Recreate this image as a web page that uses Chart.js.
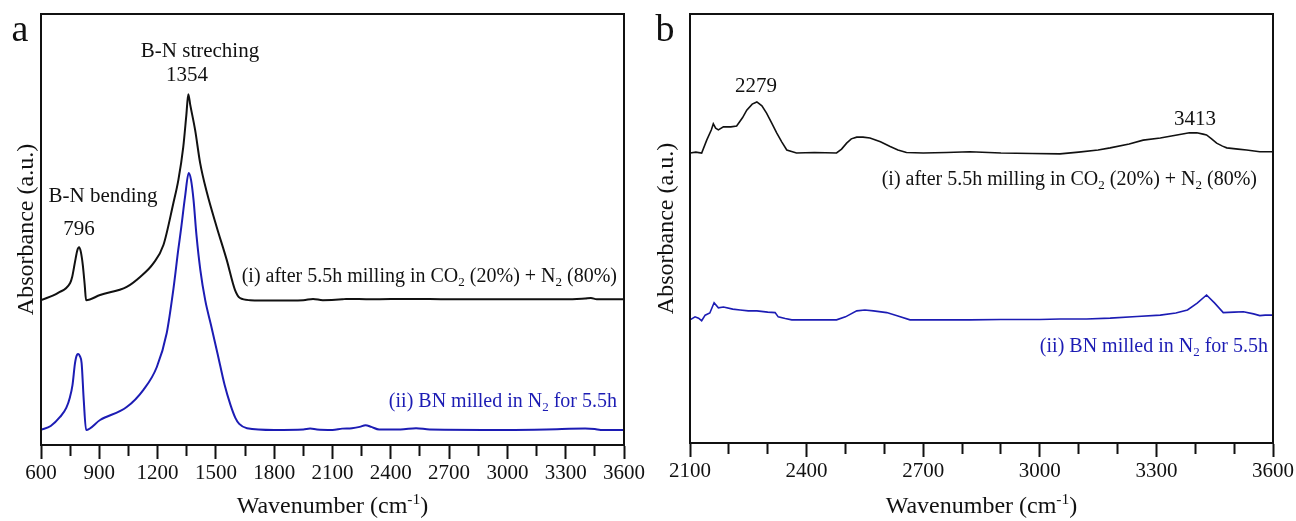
<!DOCTYPE html>
<html>
<head>
<meta charset="utf-8">
<script src="https://cdn.jsdelivr.net/npm/chart.js@4.4.1/dist/chart.umd.min.js"></script>
<style>
html, body { margin: 0; padding: 0; background: #fff; }
#wrap { position: relative; width: 1296px; height: 521px; }
canvas { position: absolute; top: 0; }
#chartA { left: 0; }
#chartB { left: 648px; }
</style>
</head>
<body>
<div id="wrap">
  <canvas id="chartA" width="648" height="521"></canvas>
  <canvas id="chartB" width="648" height="521"></canvas>
</div>
<script>
// ---- panel a : full range spectra ----
const wnA_i  = [600,688,750,760,775,787,796,805,815,825,832,904,1041,1110,1179,1230,1281,1307,1332,1348,1358,1368,1393,1419,1454,1504,1556,1598,1624,1676,1800,1950,2000,2050,2150,2170,2300,2500,2700,3000,3300,3400,3430,3460,3600];
const absA_i = [33.6,35.3,37.6,38.9,42.5,45.2,45.9,44.8,41.8,37.1,33.6,34.8,36.7,39.0,42.2,46.4,56.1,61.5,69.1,76.6,81.4,78.9,73.1,65.4,58.5,50.6,42.9,36.0,34.1,33.6,33.5,33.6,33.9,33.6,33.8,33.9,33.8,33.9,33.8,33.8,33.8,34.0,34.1,33.8,33.8];

const wnA_ii  = [600,650,698,730,749,762,775,785,792,800,809,820,832,904,1041,1127,1196,1247,1282,1306,1320,1341,1360,1372,1385,1400,1420,1445,1475,1510,1545,1575,1600,1620,1660,1800,1950,1985,2020,2100,2150,2200,2240,2270,2300,2340,2450,2530,2600,3000,3200,3400,3450,3480,3600];
const absA_ii = [3.5,4.4,6.5,8.6,11.1,13.9,19.0,20.9,21.1,20.6,19.0,10.4,3.5,5.8,8.8,12.8,18.1,26.0,36.4,45.2,49.9,57.5,63.1,61.5,56.8,48.7,40.6,33.6,27.8,20.9,13.9,9.3,6.3,4.9,3.9,3.5,3.6,3.8,3.6,3.5,3.8,3.9,4.2,4.6,4.2,3.6,3.6,3.9,3.6,3.5,3.6,3.8,3.7,3.5,3.5];

const ticksA = [600,900,1200,1500,1800,2100,2400,2700,3000,3300,3600];

// ---- panel b : 2100-3600 zoom ----
const wnB_i  = [2100,2115,2130,2143,2155,2160,2166,2173,2186,2205,2220,2235,2246,2260,2272,2285,2297,2310,2323,2336,2349,2374,2420,2477,2490,2503,2515,2529,2545,2563,2590,2615,2635,2657,2700,2760,2820,2900,2980,3052,3100,3150,3181,3230,3266,3310,3353,3385,3404,3420,3429,3442,3455,3470,3481,3510,3532,3566,3600];
const absB_i = [67.6,67.8,67.6,70.6,73.0,74.4,73.4,73.0,73.7,73.7,73.9,75.8,77.6,79.0,79.5,78.6,76.9,74.6,72.3,70.2,68.3,67.6,67.7,67.6,68.5,69.9,70.9,71.3,71.3,71.1,70.2,69.1,68.3,67.7,67.6,67.7,67.9,67.6,67.5,67.4,67.8,68.3,68.8,69.7,70.6,71.1,71.8,72.3,72.3,72.0,71.8,70.9,69.9,69.2,68.8,68.5,68.3,67.9,67.9];

const wnB_ii  = [2100,2113,2122,2130,2139,2151,2162,2173,2186,2210,2229,2250,2272,2300,2319,2327,2345,2362,2420,2477,2500,2529,2550,2572,2606,2635,2666,2750,2820,2900,3000,3052,3120,3181,3250,3310,3350,3380,3405,3429,3450,3472,3500,3524,3550,3566,3580,3600];
const absB_ii = [28.7,29.4,29.1,28.5,29.8,30.3,32.7,31.5,31.7,31.2,31.0,30.8,30.8,30.5,30.4,29.4,29.0,28.7,28.7,28.7,29.4,30.8,31.0,30.8,30.4,29.6,28.7,28.7,28.7,28.8,28.8,28.9,28.9,29.1,29.5,29.8,30.3,31.0,32.6,34.5,32.6,30.4,30.5,30.6,30.1,29.7,29.8,29.8];

const ticksB = [2100,2400,2700,3000,3300,3600];

const INK = '#111';
const BLUE = '#1c1cb4';
const SERIF = '"Liberation Serif", "Times New Roman", serif';

function pts(xs, ys) { return xs.map((x, i) => ({x: x, y: ys[i]})); }

// text with sub/superscripts: parts = [[text, 0|1(sub)|2(sup)], ...]
function drawRich(ctx, parts, x, y, size, color, align) {
  ctx.save();
  ctx.fillStyle = color;
  ctx.textBaseline = 'alphabetic';
  ctx.textAlign = 'left';
  let w = 0;
  parts.forEach(p => {
    ctx.font = (p[1] ? size * 0.65 : size) + 'px ' + SERIF;
    w += ctx.measureText(p[0]).width;
  });
  let cx = align === 'right' ? x - w : (align === 'center' ? x - w / 2 : x);
  parts.forEach(p => {
    const s = p[1] ? size * 0.65 : size;
    ctx.font = s + 'px ' + SERIF;
    const dy = p[1] === 1 ? size * 0.22 : (p[1] === 2 ? -size * 0.38 : 0);
    ctx.fillText(p[0], cx, y + dy);
    cx += ctx.measureText(p[0]).width;
  });
  ctx.restore();
}

const labelI = [['(i) after 5.5h milling in CO', 0], ['2', 1], [' (20%) + N', 0], ['2', 1], [' (80%)', 0]];
const labelII = [['(ii) BN milled in N', 0], ['2', 1], [' for 5.5h', 0]];

function framePlugin(texts) {
  return {
    id: 'frame',
    afterDraw(chart) {
      const ctx = chart.ctx, a = chart.chartArea;
      ctx.save();
      ctx.strokeStyle = INK;
      ctx.lineWidth = 2;
      ctx.strokeRect(a.left, a.top, a.right - a.left, a.bottom - a.top);
      ctx.restore();
      texts(ctx, a);
    }
  };
}

function axisTitles(ctx, a, ytx) {
  drawRich(ctx, [['Wavenumber (cm', 0], ['-1', 2], [')', 0]], (a.left + a.right) / 2, 513, 24, INK, 'center');
  ctx.save();
  ctx.translate(ytx, (a.top + a.bottom) / 2);
  ctx.rotate(-Math.PI / 2);
  drawRich(ctx, [['Absorbance (a.u.)', 0]], 0, 0, 24, INK, 'center');
  ctx.restore();
}

function makeChart(id, sets, xmin, xmax, step, majors, yW, xH, padR, plugin) {
  return new Chart(document.getElementById(id), {
    type: 'line',
    data: { datasets: sets },
    options: {
      responsive: false,
      animation: false,
      devicePixelRatio: 1,
      layout: { padding: { top: 14, right: padR, left: 0, bottom: 0 } },
      plugins: { legend: { display: false }, tooltip: { enabled: false } },
      scales: {
        x: {
          type: 'linear', min: xmin, max: xmax,
          ticks: {
            stepSize: step, autoSkip: false, maxRotation: 0, padding: 2,
            color: INK, font: { family: SERIF, size: 21 },
            callback: v => majors.includes(v) ? String(v) : ''
          },
          grid: {
            display: true, drawOnChartArea: false, drawTicks: true,
            tickLength: 14, tickWidth: 2, tickColor: INK,
            tickBorderDash: c => (c.tick && majors.includes(c.tick.value)) ? [] : [10, 40]
          },
          border: { display: true, color: INK, width: 2 },
          afterFit: s => { s.height = xH; }
        },
        y: {
          min: 0, max: 100,
          ticks: { display: false },
          grid: { display: false },
          border: { display: true, color: INK, width: 2 },
          afterFit: s => { s.width = yW; }
        }
      }
    },
    plugins: [plugin]
  });
}

makeChart('chartA', [
  { data: pts(wnA_i, absA_i), borderColor: INK, borderWidth: 2, pointRadius: 0, cubicInterpolationMode: 'monotone' },
  { data: pts(wnA_ii, absA_ii), borderColor: BLUE, borderWidth: 2, pointRadius: 0, cubicInterpolationMode: 'monotone' }
], 600, 3600, 150, ticksA, 41, 76, 24, framePlugin((ctx, a) => {
  axisTitles(ctx, a, 33);
  drawRich(ctx, [['a', 0]], 20, 41, 38, INK, 'center');
  drawRich(ctx, [['B-N streching', 0]], 200, 57, 21, INK, 'center');
  drawRich(ctx, [['1354', 0]], 187, 81, 21, INK, 'center');
  drawRich(ctx, [['B-N bending', 0]], 103, 202, 21, INK, 'center');
  drawRich(ctx, [['796', 0]], 79, 235, 21, INK, 'center');
  drawRich(ctx, labelI, 617, 282, 20, INK, 'right');
  drawRich(ctx, labelII, 617, 407, 20, BLUE, 'right');
}));

makeChart('chartB', [
  { data: pts(wnB_i, absB_i), borderColor: INK, borderWidth: 1.6, pointRadius: 0, tension: 0 },
  { data: pts(wnB_ii, absB_ii), borderColor: BLUE, borderWidth: 1.6, pointRadius: 0, tension: 0 }
], 2100, 3600, 100, ticksB, 42, 78, 23, framePlugin((ctx, a) => {
  axisTitles(ctx, a, 25);
  drawRich(ctx, [['b', 0]], 17, 41, 38, INK, 'center');
  drawRich(ctx, [['2279', 0]], 108, 92, 21, INK, 'center');
  drawRich(ctx, [['3413', 0]], 547, 125, 21, INK, 'center');
  drawRich(ctx, labelI, 609, 185, 20, INK, 'right');
  drawRich(ctx, labelII, 620, 352, 20, BLUE, 'right');
}));
</script>
</body>
</html>
